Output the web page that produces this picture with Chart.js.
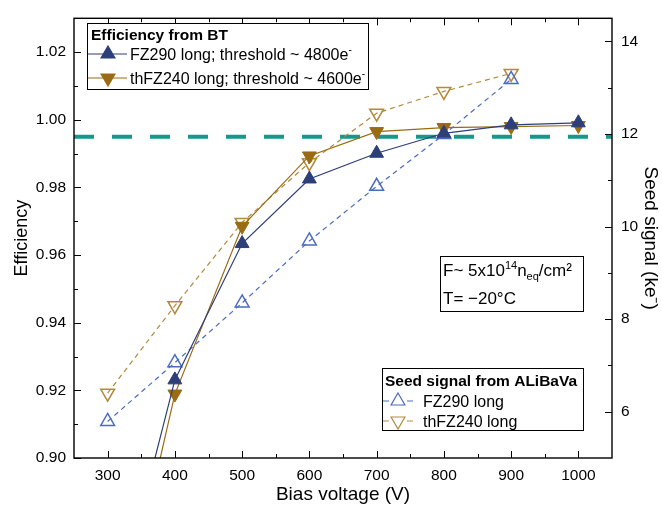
<!DOCTYPE html>
<html><head><meta charset="utf-8">
<script src="https://cdn.jsdelivr.net/npm/chart.js@4.4.0/dist/chart.umd.min.js"></script>
<style>html,body{margin:0;padding:0;background:#fff;}#wrap{width:662px;height:515px;}</style>
</head><body><div id="wrap"><canvas id="c" width="662" height="515"></canvas></div>
<script>
// ---- data ----
const voltages = [300, 400, 500, 600, 700, 800, 900, 1000];
const effFZ290 = [0.845, 0.9231, 0.9634, 0.9825, 0.9901, 0.9960, 0.9985, 0.9991];
const effThFZ240 = [0.832, 0.9189, 0.9685, 0.9893, 0.9965, 0.9977, 0.9980, 0.9983];
const seedVoltages = [300, 400, 500, 600, 700, 800, 900];
const seedFZ290 = [5.79, 7.06, 8.35, 9.69, 10.87, 11.99, 13.18];
const seedThFZ240 = [6.40, 8.29, 10.09, 11.38, 12.45, 12.92, 13.31];
const thresholdVoltages = [250, 1050];
const thresholdEff = [0.995, 0.995];
const xTicks = [300, 400, 500, 600, 700, 800, 900, 1000];
const effTicks = [0.90, 0.92, 0.94, 0.96, 0.98, 1.00, 1.02];
const seedTicks = [6, 8, 10, 12, 14];

const navy = '#2d3f78', blueH = '#4a6cc0', gold = '#9b6b14', goldH = '#b18a3c', teal = '#14998a';
const FONT = '"Liberation Sans", Arial, sans-serif';
Chart.defaults.font.family = FONT;
Chart.defaults.color = '#000';

const pts = (xs, ys) => xs.map((v, i) => ({x: v, y: ys[i]}));
const minorOf = t => t.slice(1).map((v, i) => (v + t[i]) / 2);

function rich(ctx, x, y, parts) {
  let cx = x;
  for (const p of parts) {
    ctx.font = p.f;
    ctx.fillText(p.t, cx, y + (p.dy || 0));
    cx += ctx.measureText(p.t).width;
  }
}
function marker(ctx, x, y, down, fill, stroke, lw) {
  ctx.save();
  ctx.fillStyle = fill; ctx.strokeStyle = stroke;
  Chart.helpers.drawPoint(ctx, {pointStyle: 'triangle', rotation: down ? 180 : 0, radius: 8, borderWidth: lw}, x, y);
  ctx.restore();
}

const deco = {
  id: 'deco',
  afterDatasetsDraw(chart) {
    const {ctx, chartArea: a, scales: {x, yEff, ySeed}} = chart;
    ctx.save();
    ctx.strokeStyle = '#000';
    ctx.lineWidth = 1;
    ctx.beginPath();
    const xm = xTicks.concat(minorOf(xTicks));
    xm.forEach(v => {
      const L = xTicks.includes(v) ? 7 : 4;
      const px = Math.round(x.getPixelForValue(v)) + 0.5;
      ctx.moveTo(px, a.bottom); ctx.lineTo(px, a.bottom - L);
      ctx.moveTo(px, a.top); ctx.lineTo(px, a.top + L);
    });
    const em = effTicks.concat(minorOf(effTicks));
    em.forEach((v, i) => {
      const L = i < effTicks.length ? 7 : 4;
      const py = Math.round(yEff.getPixelForValue(v)) + 0.5;
      ctx.moveTo(a.left, py); ctx.lineTo(a.left + L, py);
    });
    const sm = seedTicks.concat(minorOf(seedTicks));
    sm.forEach((v, i) => {
      const L = i < seedTicks.length ? 7 : 4;
      const py = Math.round(ySeed.getPixelForValue(v)) + 0.5;
      ctx.moveTo(a.right, py); ctx.lineTo(a.right - L, py);
    });
    ctx.stroke();
    ctx.lineWidth = 1.4;
    ctx.strokeRect(a.left, a.top, a.right - a.left, a.bottom - a.top);
    ctx.restore();
  },
  afterDraw(chart) {
    const ctx = chart.ctx;
    ctx.save();
    ctx.textBaseline = 'alphabetic';
    ctx.fillStyle = '#000';
    const N = '16px ' + FONT, B = 'bold 15.5px ' + FONT, S = '10px ' + FONT;
    // Legend 1
    ctx.fillStyle = '#fff'; ctx.fillRect(87.5, 23.5, 281, 66);
    ctx.strokeStyle = '#000'; ctx.lineWidth = 1; ctx.strokeRect(87.5, 23.5, 281, 66);
    ctx.fillStyle = '#000';
    rich(ctx, 91, 39.5, [{t: 'Efficiency from BT', f: B}]);
    [[54, navy, false, 'FZ290 long; threshold ~ 4800e'], [78, gold, true, 'thFZ240 long; threshold ~ 4600e']].forEach(([yy, c, d, txt]) => {
      ctx.strokeStyle = c; ctx.lineWidth = 1.2;
      ctx.beginPath(); ctx.moveTo(88, yy); ctx.lineTo(127, yy); ctx.stroke();
      marker(ctx, 108, yy, d, c, c, 1);
      ctx.fillStyle = '#000';
      rich(ctx, 130, yy + 6, [{t: txt, f: N}, {t: '-', f: S, dy: -7}]);
    });
    // Legend 2
    ctx.fillStyle = '#fff'; ctx.fillRect(382.5, 368.5, 201, 62);
    ctx.strokeStyle = '#000'; ctx.lineWidth = 1; ctx.strokeRect(382.5, 368.5, 201, 62);
    ctx.fillStyle = '#000';
    rich(ctx, 385, 386, [{t: 'Seed signal from ALiBaVa', f: B}]);
    [[401, blueH, false, 'FZ290 long'], [421, goldH, true, 'thFZ240 long']].forEach(([yy, c, d, txt]) => {
      ctx.strokeStyle = c; ctx.lineWidth = 1.2;
      ctx.beginPath(); ctx.moveTo(383, yy); ctx.lineTo(389, yy); ctx.moveTo(407, yy); ctx.lineTo(413, yy); ctx.stroke();
      marker(ctx, 398, yy, d, 'rgba(0,0,0,0)', c, 1.5);
      ctx.fillStyle = '#000';
      rich(ctx, 423, yy + 5.5, [{t: txt, f: N}]);
    });
    // Annotation
    ctx.fillStyle = '#fff'; ctx.fillRect(440.5, 256.5, 143, 55);
    ctx.strokeStyle = '#000'; ctx.lineWidth = 1; ctx.strokeRect(440.5, 256.5, 143, 55);
    ctx.fillStyle = '#000';
    const A = '17px ' + FONT, AS = '11px ' + FONT;
    rich(ctx, 443, 276, [{t: 'F~ 5x10', f: A}, {t: '14', f: AS, dy: -7}, {t: 'n', f: A}, {t: 'eq', f: AS, dy: 4}, {t: '/cm²', f: A}]);
    rich(ctx, 443, 304, [{t: 'T= \u221220°C', f: A}]);
    ctx.restore();
  }
};

new Chart(document.getElementById('c'), {
  type: 'line',
  data: {
    datasets: [
      {label: 'FZ290 long; threshold ~ 4800e-', data: pts(voltages, effFZ290), yAxisID: 'yEff',
       borderColor: navy, backgroundColor: navy, borderWidth: 1.2, pointStyle: 'triangle',
       pointRadius: 8, pointBorderWidth: 1, order: 1},
      {label: 'thFZ240 long; threshold ~ 4600e-', data: pts(voltages, effThFZ240), yAxisID: 'yEff',
       borderColor: gold, backgroundColor: gold, borderWidth: 1.2, pointStyle: 'triangle', pointRotation: 180,
       pointRadius: 8, pointBorderWidth: 1, order: 2},
      {label: 'FZ290 long', data: pts(seedVoltages, seedFZ290), yAxisID: 'ySeed',
       borderColor: blueH, backgroundColor: 'rgba(0,0,0,0)', borderWidth: 1.2, borderDash: [5, 4],
       pointStyle: 'triangle', pointRadius: 8, pointBorderWidth: 1.5, order: 3},
      {label: 'thFZ240 long', data: pts(seedVoltages, seedThFZ240), yAxisID: 'ySeed',
       borderColor: goldH, backgroundColor: 'rgba(0,0,0,0)', borderWidth: 1.2, borderDash: [5, 4],
       pointStyle: 'triangle', pointRotation: 180, pointRadius: 8, pointBorderWidth: 1.5, order: 4},
      {label: 'threshold', data: pts(thresholdVoltages, thresholdEff), yAxisID: 'yEff',
       borderColor: teal, borderWidth: 4, borderDash: [20, 18], pointRadius: 0, order: 5}
    ]
  },
  options: {
    responsive: false, animation: false, devicePixelRatio: 1,
    layout: {padding: {top: 9, left: 0, right: 0, bottom: 0}},
    plugins: {legend: {display: false}, tooltip: {enabled: false}},
    elements: {line: {tension: 0}},
    scales: {
      x: {
        type: 'linear', position: 'bottom', min: 250, max: 1050,
        afterBuildTicks: s => { s.ticks = xTicks.map(v => ({value: v})); },
        afterFit: s => { s.height = 57; },
        grid: {display: false, drawTicks: false}, border: {display: false},
        ticks: {font: {size: 15.5}, padding: 8, color: '#000', maxRotation: 0, callback: v => String(v)},
        title: {display: true, text: 'Bias voltage (V)', font: {size: 19}, padding: {top: 0, bottom: 9}, color: '#000'}
      },
      yEff: {
        type: 'linear', position: 'left', min: 0.90, max: 1.03,
        afterBuildTicks: s => { s.ticks = effTicks.map(v => ({value: v})); },
        afterFit: s => { s.width = 74; },
        grid: {display: false, drawTicks: false}, border: {display: false},
        ticks: {font: {size: 15.5}, padding: 8, color: '#000', callback: v => v.toFixed(2)},
        title: {display: true, text: 'Efficiency', font: {size: 18}, padding: {top: 11, bottom: 0}, color: '#000'}
      },
      ySeed: {
        type: 'linear', position: 'right', min: 5, max: 14.5,
        afterBuildTicks: s => { s.ticks = seedTicks.map(v => ({value: v})); },
        afterFit: s => { s.width = 50; },
        grid: {display: false, drawTicks: false}, border: {display: false},
        ticks: {font: {size: 15.5}, padding: 9, color: '#000'},
        title: {display: true, text: 'Seed signal (ke\u207B)', font: {size: 19}, padding: {top: 0, bottom: 0}, color: '#000'}
      }
    }
  },
  plugins: [deco]
});
</script></body></html>
